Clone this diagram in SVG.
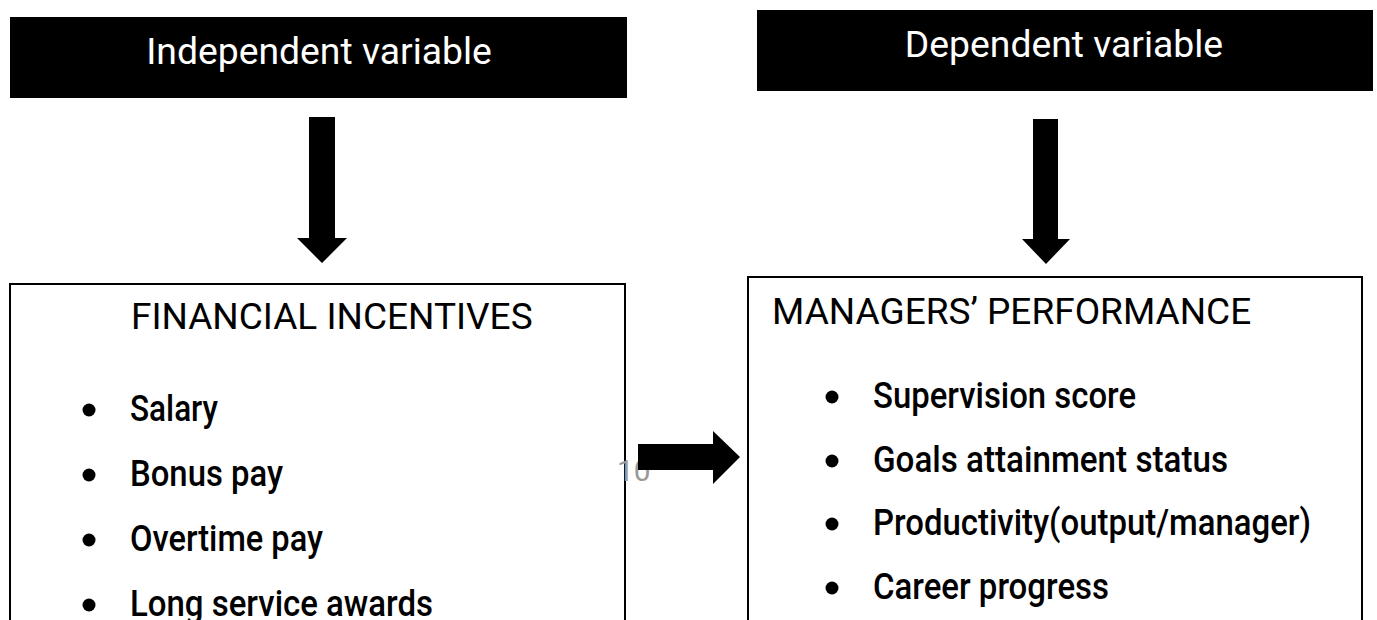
<svg xmlns="http://www.w3.org/2000/svg" width="1377" height="620" viewBox="0 0 1377 620">
  <style>
    .hdr { fill: #000000; }
    .hdr-text { font-family: Roboto, "Liberation Sans", sans-serif; font-size: 37.3px; fill: #ffffff; text-anchor: middle; }
    .box { fill: #ffffff; stroke: #000000; stroke-width: 2; }
    .title { font-family: Roboto, "Liberation Sans", sans-serif; font-size: 37px; fill: #000000; }
    .item { font-family: Roboto, "Liberation Sans", sans-serif; font-size: 36px; font-weight: 500; fill: #000000; }
    .bullet { fill: #000000; }
    .arrow { fill: #000000; }
    .pageno { font-family: Roboto, "Liberation Sans", sans-serif; font-size: 30px; fill: #9a9a9a; }
  </style>
  <rect width="1377" height="620" fill="#ffffff"/>

  <!-- header: independent variable -->
  <g id="independent-header">
    <rect class="hdr" x="10" y="17" width="617" height="81"/>
    <text class="hdr-text" x="319" y="64">Independent variable</text>
  </g>

  <!-- header: dependent variable -->
  <g id="dependent-header">
    <rect class="hdr" x="757" y="10" width="616" height="81"/>
    <text class="hdr-text" x="1064" y="57">Dependent variable</text>
  </g>

  <!-- box: financial incentives -->
  <g id="financial-incentives">
    <rect class="box" x="10" y="284" width="615" height="345"/>
    <text class="title" x="131" y="329">FINANCIAL INCENTIVES</text>
    <circle class="bullet" cx="89" cy="410" r="6.5"/>
    <text class="item" x="130" y="421" textLength="88" lengthAdjust="spacingAndGlyphs">Salary</text>
    <circle class="bullet" cx="89" cy="475" r="6.5"/>
    <text class="item" x="130" y="486" textLength="153" lengthAdjust="spacingAndGlyphs">Bonus pay</text>
    <circle class="bullet" cx="89" cy="540" r="6.5"/>
    <text class="item" x="130" y="551" textLength="193" lengthAdjust="spacingAndGlyphs">Overtime pay</text>
    <circle class="bullet" cx="89" cy="605" r="6.5"/>
    <text class="item" x="130" y="616" textLength="303" lengthAdjust="spacingAndGlyphs">Long service awards</text>
  </g>

  <!-- box: managers' performance -->
  <g id="managers-performance">
    <rect class="box" x="748" y="277" width="614" height="352"/>
    <text class="title" x="772" y="324">MANAGERS’ PERFORMANCE</text>
    <circle class="bullet" cx="832" cy="397" r="6.5"/>
    <text class="item" x="873" y="408" textLength="263" lengthAdjust="spacingAndGlyphs">Supervision score</text>
    <circle class="bullet" cx="832" cy="461" r="6.5"/>
    <text class="item" x="873" y="472" textLength="355" lengthAdjust="spacingAndGlyphs">Goals attainment status</text>
    <circle class="bullet" cx="832" cy="524" r="6.5"/>
    <text class="item" x="873" y="535" textLength="438" lengthAdjust="spacingAndGlyphs">Productivity(output/manager)</text>
    <circle class="bullet" cx="832" cy="588" r="6.5"/>
    <text class="item" x="873" y="599" textLength="236" lengthAdjust="spacingAndGlyphs">Career progress</text>
  </g>

  <!-- page number partly covered by the arrow -->
  <text class="pageno" x="617" y="481">10</text>

  <!-- block arrows -->
  <g id="connectors">
    <polygon class="arrow" points="309,117 335,117 335,238 347,238 322,263 297,238 309,238"/>
    <polygon class="arrow" points="1033,119 1058,119 1058,239 1070,239 1046,264 1022,239 1033,239"/>
    <polygon class="arrow" points="638,444 713,444 713,431 740,457 713,484 713,470 638,470"/>
  </g>
</svg>
